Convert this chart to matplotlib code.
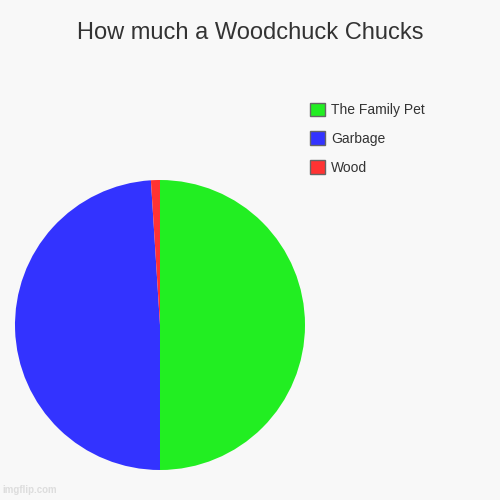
import matplotlib
matplotlib.use('Agg')
import matplotlib.pyplot as plt
from matplotlib.patches import Patch

plt.rcParams['font.family'] = ['Liberation Sans', 'DejaVu Sans']

labels = ['The Family Pet', 'Garbage', 'Wood']
values = [50, 49, 1]
colors = ['#22ee22', '#3333ff', '#ff3333']

fig = plt.figure(figsize=(5, 5), dpi=100)
fig.patch.set_facecolor('#f8f8f8')

fig.text(0.5, 0.934, 'How much a Woodchuck Chucks', ha='center', va='center',
         fontsize=17, color='#333333')

ax = fig.add_axes([0.03, 0.06, 0.58, 0.58])
ax.pie(values, colors=colors, startangle=90, counterclock=False)
ax.set_xlim(-1, 1)
ax.set_ylim(-1, 1)
ax.set_aspect('equal')

handles = [Patch(facecolor=c, edgecolor='#666666', linewidth=1) for c in colors]
fig.legend(handles, labels, loc='upper left', bbox_to_anchor=(0.594, 0.82),
           frameon=False, fontsize=10, handlelength=1.1, handleheight=1.1,
           handletextpad=0.45, labelspacing=1.05, labelcolor='#333333')

fig.text(0.005, 0.01, 'imgflip.com', fontsize=7, color='#dddddd',
         ha='left', va='bottom', fontweight='bold')

fig.savefig('out.png', dpi=100, facecolor=fig.get_facecolor())
